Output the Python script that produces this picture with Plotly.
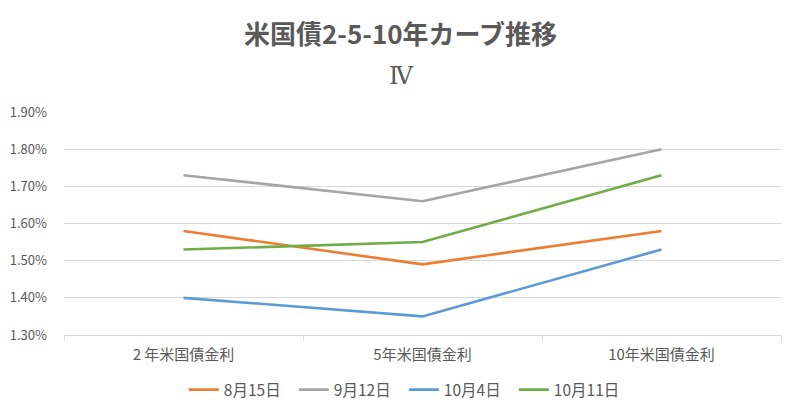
import plotly.graph_objects as go

categories = ["2 年米国債金利", "5年米国債金利", "10年米国債金利"]
series_names = ["8月15日", "9月12日", "10月4日", "10月11日"]
aug15 = [1.58, 1.49, 1.58]
sep12 = [1.73, 1.66, 1.80]
oct4 = [1.40, 1.35, 1.53]
oct11 = [1.53, 1.55, 1.73]
y_ticks = [1.30, 1.40, 1.50, 1.60, 1.70, 1.80, 1.90]
y_tick_labels = ["1.30%", "1.40%", "1.50%", "1.60%", "1.70%", "1.80%", "1.90%"]

colors = ["#ED7D31", "#A5A5A5", "#5B9BD5", "#70AD47"]
values = [aug15, sep12, oct4, oct11]

fig = go.Figure()
for name, vals, c in zip(series_names, values, colors):
    fig.add_trace(go.Scatter(x=categories, y=vals, name=name, mode="lines",
                             line=dict(color=c, width=2.6)))

font_family = "Noto Sans CJK JP, Noto Sans, sans-serif"
fig.update_layout(
    width=800, height=419,
    paper_bgcolor="white", plot_bgcolor="white",
    margin=dict(l=56, r=27, t=104, b=92, autoexpand=False),
    font=dict(family=font_family, color="#595959", size=13),
    showlegend=True,
    legend=dict(orientation="h", x=0.474, xanchor="center", y=-0.247, yanchor="middle",
                font=dict(size=15.5, color="#595959"), itemwidth=30, tracegroupgap=0,
                entrywidth=65),
)
fig.add_annotation(text="<b>米国債2-5-10年カーブ推移</b>", xref="paper", yref="paper",
                   x=0.5, y=1.0, yshift=80, xshift=-22, yanchor="middle", showarrow=False,
                   font=dict(size=26, color="#595959", family=font_family))
fig.add_annotation(text="Ⅳ", xref="paper", yref="paper",
                   x=0.5, y=1.0, yshift=36, xshift=-21, yanchor="middle", showarrow=False,
                   font=dict(size=24, color="#595959", family="DejaVu Serif, Liberation Serif, serif"))

fig.update_xaxes(range=[-0.5, 2.5], showgrid=False, showline=True, linecolor="#D9D9D9", linewidth=1,
                 ticks="outside", tickson="boundaries", ticklen=5, tickcolor="#D9D9D9",
                 ticklabelstandoff=6, automargin=False,
                 tickfont=dict(size=15, color="#595959"), fixedrange=True)
fig.update_yaxes(range=[1.3, 1.9], tickvals=y_ticks, ticktext=y_tick_labels,
                 showgrid=True, gridcolor="#D9D9D9", gridwidth=1, zeroline=False,
                 showline=False, ticks="", ticklabelstandoff=16, automargin=False,
                 tickfont=dict(size=13, color="#595959"))

fig.write_html("out.html")
